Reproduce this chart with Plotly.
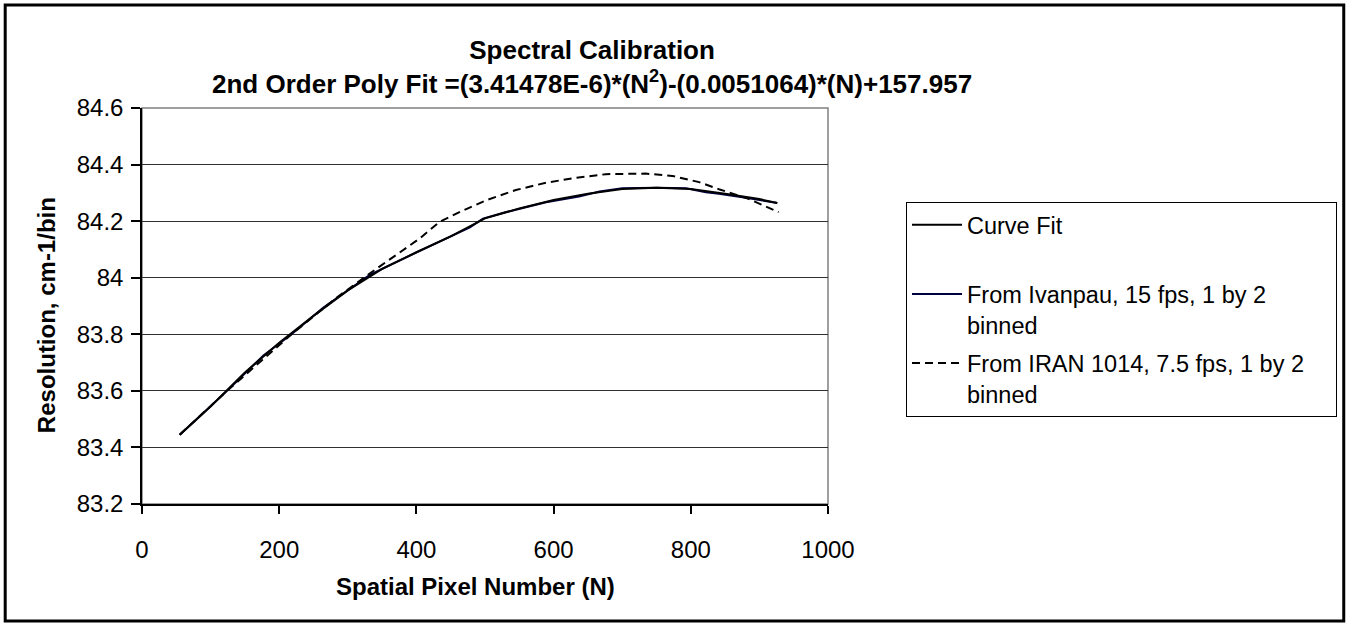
import plotly.graph_objects as go

# ---- data ----
fit_n = [55, 100, 150, 200, 250, 300, 350, 400, 450, 500, 550, 600, 650, 700, 750, 800, 850, 900, 926]
fit_v = [83.445, 83.545, 83.665, 83.77, 83.865, 83.955, 84.031, 84.09, 84.146, 84.21, 84.245, 84.275,
         84.297, 84.314, 84.318, 84.314, 84.297, 84.278, 84.264]

ivan_n = [55, 80, 124, 177, 218, 264, 332, 405, 440, 478, 497, 531, 589, 637, 667, 700, 750, 793,
          822, 841, 880, 926]
ivan_v = [83.445, 83.50, 83.60, 83.725, 83.80, 83.894, 84.01, 84.095, 84.135, 84.178, 84.209, 84.232,
          84.267, 84.287, 84.305, 84.316, 84.318, 84.316, 84.302, 84.297, 84.283, 84.264]

iran_n = [55, 124, 218, 284, 332, 370, 405, 434, 470, 502, 545, 589, 630, 676, 734, 773, 812, 841, 883, 928]
iran_v = [83.445, 83.60, 83.80, 83.93, 84.015, 84.08, 84.139, 84.198, 84.24, 84.274, 84.31, 84.336,
          84.352, 84.366, 84.368, 84.36, 84.338, 84.313, 84.28, 84.232]

x_ticks = [0, 200, 400, 600, 800, 1000]
y_ticks = [83.2, 83.4, 83.6, 83.8, 84.0, 84.2, 84.4, 84.6]

title_text = ("<b>Spectral Calibration<br>2nd Order Poly Fit =(3.41478E-6)*(N<sup>2</sup>)"
              "-(0.0051064)*(N)+157.957</b>")
names = ["Curve Fit<br>\u00a0", "From Ivanpau, 15 fps, 1 by 2<br>binned",
         "From IRAN 1014, 7.5 fps, 1 by 2\u00a0\u00a0\u00a0\u00a0<br>binned"]

FONT = "Liberation Sans, Arial, sans-serif"

fig = go.Figure()
fig.add_trace(go.Scatter(x=ivan_n, y=ivan_v, mode="lines", name=names[1], legendrank=2,
                         legendgroup="b", line=dict(color="#000040", width=2)))
fig.add_trace(go.Scatter(x=iran_n, y=iran_v, mode="lines", name=names[2], legendrank=3,
                         legendgroup="c", line=dict(color="black", width=2, dash="8px,5px")))
fig.add_trace(go.Scatter(x=fit_n, y=fit_v, mode="lines", name=names[0], legendrank=1,
                         legendgroup="a", line=dict(color="black", width=2)))

L, R, T, B = 142, 519, 108, 122
W, H = 1348, 626
pw, ph = W - L - R, H - T - B


def px_x(p):
    return (p - L) / pw


def px_y(p):
    return (H - B - p) / ph


fig.update_layout(
    width=W, height=H,
    margin=dict(l=L, r=R, t=T, b=B),
    paper_bgcolor="white", plot_bgcolor="white",
    font=dict(family=FONT, size=24, color="black"),
    showlegend=True,
    legend=dict(x=px_x(906), y=px_y(202), xanchor="left", yanchor="top",
                bordercolor="black", borderwidth=1, bgcolor="white",
                font=dict(size=23.5), valign="top", traceorder="grouped",
                tracegroupgap=5, itemwidth=50),
    xaxis=dict(range=[0, 1000], tickvals=x_ticks, showgrid=False, zeroline=False,
               showline=True, linecolor="black", linewidth=1.5,
               ticks="outside", ticklen=8, tickcolor="black", tickwidth=1.5,
               ticklabelstandoff=15, tickfont=dict(size=24)),
    yaxis=dict(range=[83.2, 84.6], tickvals=y_ticks, ticktext=[f"{v:g}" for v in y_ticks],
               showgrid=True, gridcolor="#303030", gridwidth=1, zeroline=False,
               showline=True, linecolor="black", linewidth=1.5,
               ticks="outside", ticklen=9, tickcolor="black", tickwidth=1.5,
               ticklabelstandoff=3, tickfont=dict(size=24)),
    shapes=[
        dict(type="rect", xref="paper", yref="paper", x0=0, x1=1, y0=0, y1=1,
             line=dict(color="#808080", width=1.5), layer="below"),
        dict(type="rect", xref="paper", yref="paper",
             x0=px_x(5), x1=px_x(1345.5), y0=px_y(621), y1=px_y(5),
             line=dict(color="black", width=3)),
    ],
    annotations=[
        dict(text=title_text, xref="paper", yref="paper", x=px_x(593), y=px_y(67),
             xanchor="center", yanchor="middle", showarrow=False, borderpad=0,
             font=dict(size=26, family=FONT)),
        dict(text="<b>Spatial Pixel Number (N)</b>", xref="paper", yref="paper",
             x=px_x(476), y=px_y(586), xanchor="center", yanchor="middle", showarrow=False,
             font=dict(size=24, family=FONT)),
        dict(text="<b>Resolution, cm-1/bin</b>", xref="paper", yref="paper",
             x=px_x(46), y=px_y(315), xanchor="center", yanchor="middle", showarrow=False,
             textangle=-90, font=dict(size=24, family=FONT)),
    ],
)

fig.write_html("out.html", config={"displayModeBar": False},
               post_script="document.body.style.margin='0px';document.body.style.padding='0px';")
